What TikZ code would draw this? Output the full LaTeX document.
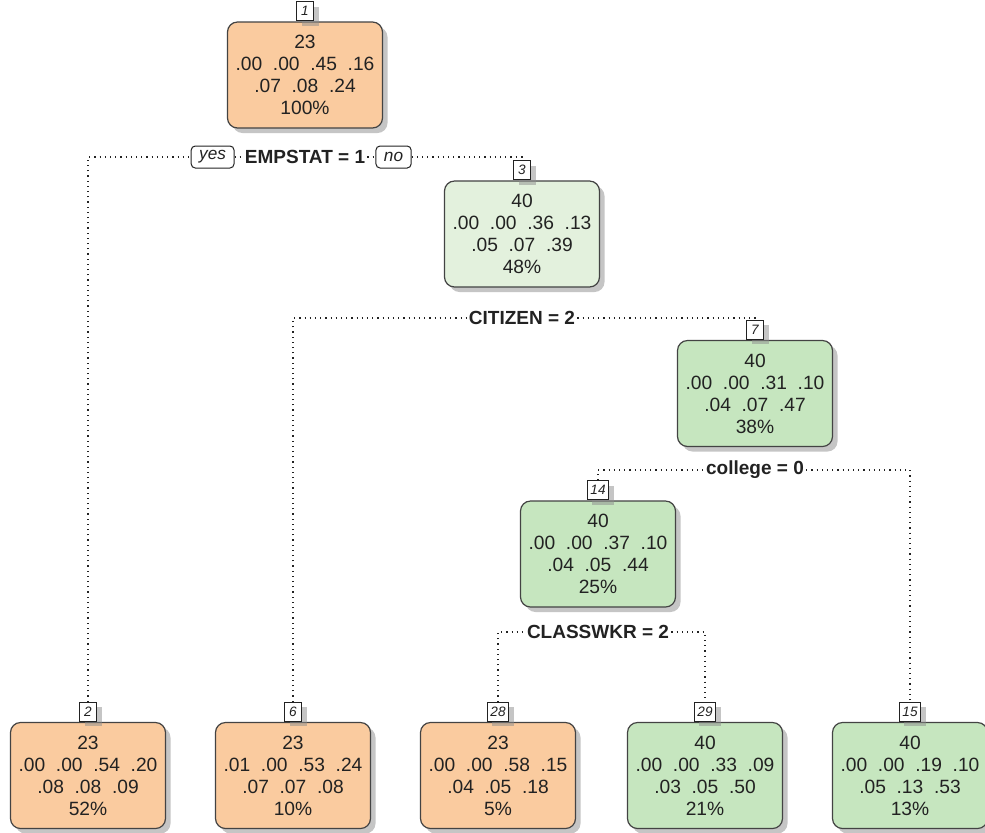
\documentclass[tikz,border=0pt]{standalone}
\usepackage{fontspec}
\setmainfont{Liberation Sans}
\usetikzlibrary{positioning, shadows}
\definecolor{leaforange}{HTML}{FACB9F}
\definecolor{leafpale}{HTML}{E3F1DD}
\definecolor{leafgreen}{HTML}{C6E6BF}
\definecolor{inkdark}{HTML}{222222}
\tikzset{
  boxshadow/.style={drop shadow={shadow xshift=2.5pt, shadow yshift=-2.5pt,
                    fill=black!45, opacity=.5}},
  numbox/.style={draw=inkdark, line width=0.6pt, fill=white, boxshadow,
                 minimum height=9.5pt, minimum width=8.5pt, inner xsep=1.5pt, inner ysep=0pt,
                 font=\fontsize{6.8}{7}\selectfont\itshape, text=inkdark},
  splitlbl/.style={fill=white, inner sep=1pt, text=inkdark,
                   font=\fontsize{9.5}{11}\selectfont\bfseries},
  yesno/.style={draw=inkdark, line width=0.5pt, rounded corners=2pt, fill=white,
                minimum height=11pt, inner xsep=4pt, inner ysep=0pt, text=inkdark,
                font=\fontsize{8.6}{10}\selectfont\itshape},
  link/.style={dotted, line width=0.6pt, inkdark}
}
\newcommand{\treebox}[5]{%
  \node[draw=inkdark!85, line width=0.6pt, rounded corners=5pt, fill=#3, boxshadow,
        minimum width=77.5pt, minimum height=53pt, align=center, inner sep=0pt,
        text=inkdark, font=\fontsize{9.6}{11}\selectfont] (#1) at (#2) {#5};
  \node[numbox, above=0pt of #1] (l#1) {#4};}

\begin{document}
\begin{tikzpicture}[x=0.5pt, y=-0.5pt]
      \fill[white] (0,0) rectangle (985,832);
      \useasboundingbox (0,0) rectangle (985,832);
      % inner nodes
      \treebox{n1}{305,75}{leaforange}{1}{23\\.00~~.00~~.45~~.16\\.07~~.08~~.24\\100\%}
      \treebox{n3}{522,234}{leafpale}{3}{40\\.00~~.00~~.36~~.13\\.05~~.07~~.39\\48\%}
      \treebox{n7}{755,393.5}{leafgreen}{7}{40\\.00~~.00~~.31~~.10\\.04~~.07~~.47\\38\%}
      \treebox{n14}{598,554}{leafgreen}{14}{40\\.00~~.00~~.37~~.10\\.04~~.05~~.44\\25\%}
      % leaves
      \treebox{n2}{88,775.5}{leaforange}{2}{23\\.00~~.00~~.54~~.20\\.08~~.08~~.09\\52\%}
      \treebox{n6}{293,775.5}{leaforange}{6}{23\\.01~~.00~~.53~~.24\\.07~~.07~~.08\\10\%}
      \treebox{n28}{498,775.5}{leaforange}{28}{23\\.00~~.00~~.58~~.15\\.04~~.05~~.18\\5\%}
      \treebox{n29}{705,775.5}{leafgreen}{29}{40\\.00~~.00~~.33~~.09\\.03~~.05~~.50\\21\%}
      \treebox{n15}{910,775.5}{leafgreen}{15}{40\\.00~~.00~~.19~~.10\\.05~~.13~~.53\\13\%}
      % split labels
      \node[splitlbl] (s1) at (305,157) {EMPSTAT = 1};
      \node[yesno, left=4pt of s1] (yes) {yes};
      \node[yesno, right=4pt of s1] (no) {no};
      \node[splitlbl] (s3) at (522,318) {CITIZEN = 2};
      \node[splitlbl] (s7) at (755,470) {college = 0};
      \node[splitlbl] (s14) at (598,632) {CLASSWKR = 2};
      % dotted branches
      \draw[link] (ln2.north) |- (yes.west);
      \draw[link] (yes.east) -- (s1.west);
      \draw[link] (s1.east) -- (no.west);
      \draw[link] (no.east) -| (ln3.north);
      \draw[link] (ln6.north) |- (s3.west);
      \draw[link] (s3.east) -| (ln7.north);
      \draw[link] (ln14.north) |- (s7.west);
      \draw[link] (s7.east) -| (ln15.north);
      \draw[link] (ln28.north) |- (s14.west);
      \draw[link] (s14.east) -| (ln29.north);
    \end{tikzpicture}
\end{document}
